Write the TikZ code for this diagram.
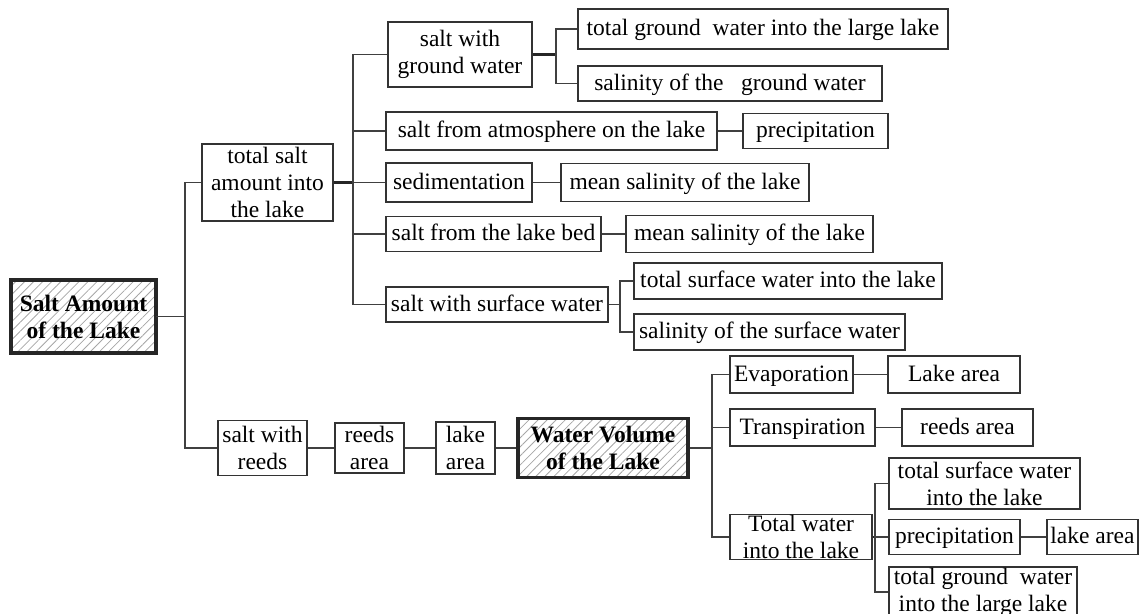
\documentclass[tikz,border=0pt]{standalone}
\usepackage{fontspec}
\setmainfont{Liberation Serif}
\usetikzlibrary{patterns.meta}
\begin{document}
\begin{tikzpicture}[x=0.5pt,y=-0.5pt,
  sz/.style 2 args={minimum width=#1*0.5pt, minimum height=#2*0.5pt},
  box/.style={draw=black!80, line width=0.6pt, inner sep=0pt, align=center,
    font=\fontsize{11.75}{13.5}\selectfont},
  one/.style={text height=8.6pt, text depth=2pt},
  mainbox/.style={box, line width=1.6pt, draw=black!85,
    pattern={Lines[angle=45,distance=3.2pt,line width=0.4pt]}, pattern color=black!35,
    font=\fontsize{11.75}{13.5}\selectfont\bfseries},
  conn/.style={draw=black!75, line width=0.6pt},
  connb/.style={draw=black!85, line width=1.1pt},
]
\useasboundingbox (0,0) rectangle (1139,614);
\clip (0,0) rectangle (1139,614);

% nodes
\node[mainbox,sz={145}{73}] (SA) at (83.5,316.5) {Salt Amount\\of the Lake};
\node[box,sz={131}{77}] (TS) at (267.5,182.5) {total salt\\amount into\\the lake};
\node[box,sz={144}{65}] (SGW) at (460,54.5) {salt with\\ground water};
\node[box,one,sz={370}{40}] (TGW) at (763,29) {total ground\ \ water into the large lake};
\node[box,one,sz={304}{35}] (SGRW) at (730,83.5) {salinity of the\ \ \ ground water};
\node[box,one,sz={331}{38}] (SAT) at (551.5,131) {salt from atmosphere on the lake};
\node[box,one,sz={145}{35}] (PR1) at (815.5,131) {precipitation};
\node[box,one,sz={146}{39}] (SED) at (459,182.5) {sedimentation};
\node[box,one,sz={248}{38}] (MS1) at (685,182.5) {mean salinity of the lake};
\node[box,one,sz={215}{35}] (SLB) at (493.5,234) {salt from the lake bed};
\node[box,one,sz={247}{37}] (MS2) at (749.5,234) {mean salinity of the lake};
\node[box,one,sz={222}{35}] (SSW) at (497,304.5) {salt with surface water};
\node[box,one,sz={308}{36}] (TSW) at (788,281) {total surface water into the lake};
\node[box,one,sz={271}{36}] (SSUR) at (769.5,332) {salinity of the surface water};
\node[box,sz={89}{55}] (SWR) at (262.5,448) {salt with\\reeds};
\node[box,sz={69}{50}] (RA) at (369.5,448) {reeds\\area};
\node[box,sz={59}{52}] (LA) at (465.5,448) {lake\\area};
\node[mainbox,sz={170}{59}] (WV) at (603,448) {Water Volume\\of the Lake};
\node[box,one,sz={123}{37}] (EV) at (791.5,374.5) {Evaporation};
\node[box,one,sz={132}{37}] (LA2) at (954,374.5) {Lake area};
\node[box,one,sz={145}{37}] (TR) at (802.5,427.5) {Transpiration};
\node[box,one,sz={131}{37}] (RA2) at (967.5,427.5) {reeds area};
\node[box,sz={142}{45}] (TW) at (801,537) {Total water\\into the lake};
\node[box,sz={191}{51}] (TSW2) at (984.5,483.5) {total surface water\\into the lake};
\node[box,one,sz={131}{35}] (PR2) at (954.5,537) {precipitation};
\node[box,one,sz={91}{35}] (LA3) at (1092.5,537) {lake area};
\node[box,sz={188}{50}] (TGW2) at (983,592) {total ground\ \ water\\into the large lake};

% junctions
\coordinate (j1) at (185,316.5);
\coordinate (j2) at (353,182.5);
\coordinate (j3) at (556,54.5);
\coordinate (j4) at (620,304.5);
\coordinate (j5) at (712,448);
\coordinate (j6) at (875,537);

% connectors
\draw[conn] (SA.east) -- (j1);
\draw[conn] (j1) |- (TS.west);
\draw[conn] (j1) |- (SWR.west);

\draw[connb] (TS.east) -- (j2);
\draw[conn] (j2) |- (SGW.west);
\draw[conn] (j2) |- (SAT.west);
\draw[conn] (j2) -- (SED.west);
\draw[conn] (j2) |- (SLB.west);
\draw[conn] (j2) |- (SSW.west);

\draw[connb] (SGW.east) -- (j3);
\draw[conn] (j3) |- (TGW.west);
\draw[conn] (j3) |- (SGRW.west);

\draw[conn] (SAT.east) -- (PR1.west);
\draw[conn] (SED.east) -- (MS1.west);
\draw[conn] (SLB.east) -- (MS2.west);

\draw[conn] (SSW.east) -- (j4);
\draw[conn] (j4) |- (TSW.west);
\draw[conn] (j4) |- (SSUR.west);

\draw[conn] (SWR.east) -- (RA.west);
\draw[conn] (RA.east) -- (LA.west);
\draw[conn] (LA.east) -- (WV.west);

\draw[conn] (WV.east) -- (j5);
\draw[conn] (j5) |- (EV.west);
\draw[conn] (j5) |- (TR.west);
\draw[conn] (j5) |- (TW.west);

\draw[conn] (EV.east) -- (LA2.west);
\draw[conn] (TR.east) -- (RA2.west);

\draw[connb] (TW.east) -- (j6);
\draw[conn] (j6) |- (TSW2.west);
\draw[conn] (j6) -- (PR2.west);
\draw[conn] (j6) |- (TGW2.west);
\draw[conn] (PR2.east) -- (LA3.west);
\end{tikzpicture}
\end{document}
